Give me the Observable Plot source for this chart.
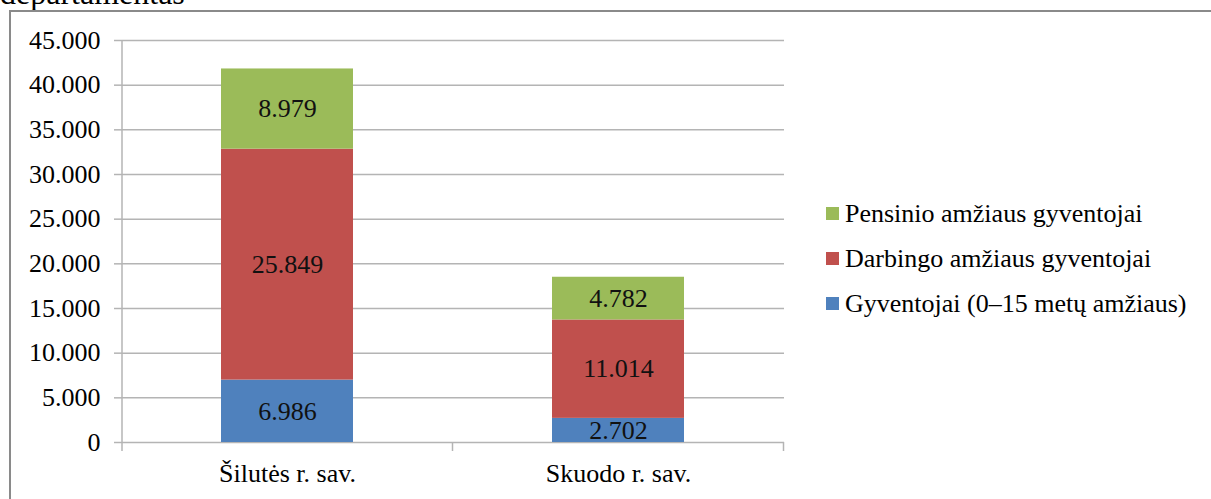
<!DOCTYPE html>
<html>
<head>
<meta charset="utf-8">
<script src="https://cdn.jsdelivr.net/npm/d3@7"></script>
<script src="https://cdn.jsdelivr.net/npm/@observablehq/plot@0.6"></script>
<style>
  html, body { margin: 0; padding: 0; background: #fff; overflow: hidden; }
  body { width: 1211px; height: 499px; position: relative; font-family: "Liberation Serif", "Times New Roman", Tinos, Times, "DejaVu Serif", serif; }
  #title { position: absolute; left: 0; top: -23px; font-size: 32px; line-height: 32px; color: #000; white-space: nowrap; }
  #frame { position: absolute; left: 9px; top: 10px; width: 1400px; height: 700px; border-top: 2px solid #8a8a8a; border-left: 2px solid #8a8a8a; box-sizing: border-box; }
  #chart { position: absolute; left: 0; top: 0; }
  #legend { position: absolute; left: 826px; top: 0; }
  .item { position: absolute; left: 0; white-space: nowrap; font-size: 26px; line-height: 26px; color: #000; }
  .sw { position: absolute; left: 0; width: 13px; height: 13px; }
  .lab { position: absolute; left: 19px; top: -13px; white-space: nowrap; }
  svg text { font-family: "Liberation Serif", "Times New Roman", Tinos, Times, "DejaVu Serif", serif; }
</style>
</head>
<body>
<div id="title">departamentas</div>
<div id="frame"></div>
<div id="chart"></div>
<div id="legend"></div>
<script>
const categories = ["Šilutės r. sav.", "Skuodo r. sav."];
const series = ["Gyventojai (0–15 metų amžiaus)", "Darbingo amžiaus gyventojai", "Pensinio amžiaus gyventojai"];
const seriesColors = ["#4f81bd", "#c0504d", "#9bbb59"];
const youngValues = [6986, 2702];
const workingValues = [25849, 11014];
const pensionValues = [8979, 4782];
const yTicks = [0, 5000, 10000, 15000, 20000, 25000, 30000, 35000, 40000, 45000];
const legendOrder = [2, 1, 0];

const seriesValues = [youngValues, workingValues, pensionValues];
const data = [];
categories.forEach((c, i) => {
  series.forEach((s, j) => data.push({cat: c, series: s, value: seriesValues[j][i]}));
});

const loc = d3.formatLocale({decimal: ",", thousands: ".", grouping: [3], currency: ["", ""]});
const fmt = loc.format(",");

const font = "'Liberation Serif', 'Times New Roman', Tinos, Times, 'DejaVu Serif', serif";
const gridColor = "#b4b4b4";

const plot = Plot.plot({
  width: 1211,
  height: 499,
  marginLeft: 122,
  marginRight: 427,
  marginTop: 40,
  marginBottom: 57,
  style: {fontFamily: font, fontSize: "26px", color: "#000", background: "transparent", overflow: "visible"},
  x: {domain: categories, paddingInner: 0.6, paddingOuter: 0.3, label: null},
  y: {domain: [0, 45000], label: null},
  color: {domain: series, range: seriesColors},
  marks: [
    Plot.gridY(yTicks, {stroke: gridColor, strokeOpacity: 1, strokeWidth: 1.5}),
    Plot.axisY(yTicks, {tickSize: 8, tickPadding: 14, tickFormat: fmt, stroke: gridColor, strokeWidth: 1.5, fontSize: 26, fill: "#000", label: null}),
    Plot.axisX({tickSize: 0, tickPadding: 21, fontSize: 26, fill: "#000", label: null}),
    Plot.barY(data, Plot.stackY({x: "cat", y: "value", fill: "series"})),
    Plot.text(data, Plot.stackY({x: "cat", y: "value", z: "series", text: d => fmt(d.value), fontSize: 26, fill: "#111"}))
  ]
});
document.getElementById("chart").appendChild(plot);

// axis line on the left and category boundary ticks, positioned via Plot's scales
const xs = plot.scale("x");
const ys = plot.scale("y");
const svg = d3.select(plot);
const y0 = ys.apply(0), yTop = ys.apply(45000);
const x0 = xs.range[0];
svg.append("line").attr("x1", x0).attr("x2", x0).attr("y1", yTop).attr("y2", y0 + 9)
  .attr("stroke", gridColor).attr("stroke-width", 1.5);
categories.forEach(c => {
  const b = xs.apply(c) + xs.bandwidth / 2 + xs.step / 2;
  svg.append("line").attr("x1", b).attr("x2", b).attr("y1", y0).attr("y2", y0 + 9)
    .attr("stroke", gridColor).attr("stroke-width", 1.5);
});

// legend
const legend = document.getElementById("legend");
legendOrder.forEach((j, k) => {
  const item = document.createElement("div");
  item.className = "item";
  item.style.top = (214 + k * 45) + "px";
  const sw = document.createElement("div");
  sw.className = "sw";
  sw.style.top = "-7px";
  sw.style.background = seriesColors[j];
  const lab = document.createElement("div");
  lab.className = "lab";
  lab.textContent = series[j];
  item.appendChild(sw);
  item.appendChild(lab);
  legend.appendChild(item);
});
</script>
</body>
</html>
